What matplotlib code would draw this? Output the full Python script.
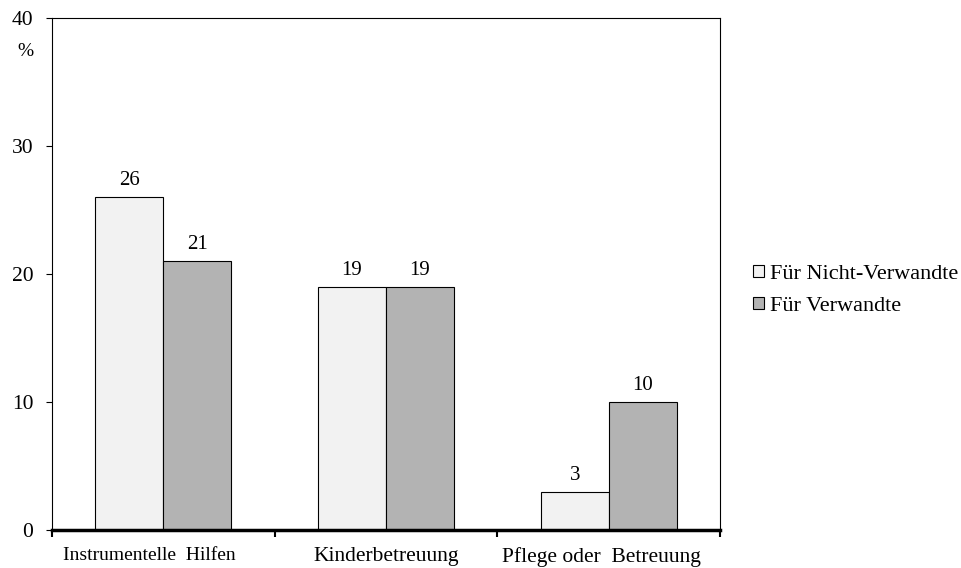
import numpy as np
import matplotlib.pyplot as plt
import matplotlib.transforms as mtransforms

plt.rcParams['font.family'] = ['Liberation Serif', 'DejaVu Serif']

# Data
categories = ['Instrumentelle  Hilfen', 'Kinderbetreuung', 'Pflege oder  Betreuung']
nicht_verwandte = [26, 19, 3]
verwandte = [21, 19, 10]
series_names = ['Für Nicht-Verwandte', 'Für Verwandte']

fig = plt.figure(figsize=(9.61, 5.68), dpi=100)
ax = fig.add_axes([0.0541, 0.0669, 0.6951, 0.9014])

x = np.arange(len(categories))
w = 0.305
b1 = ax.bar(x - w / 2, nicht_verwandte, w, color='#f2f2f2', edgecolor='black', linewidth=0.8, label=series_names[0])
b2 = ax.bar(x + w / 2, verwandte, w, color='#b3b3b3', edgecolor='black', linewidth=0.8, label=series_names[1])

for bars in (b1, b2):
    for r in bars:
        ax.annotate(f'{r.get_height():g}', (r.get_x() + r.get_width() / 2, r.get_height()),
                    xytext=(0, 5), textcoords='offset points', ha='center', va='bottom', fontsize=15)

ax.set_xlim(-0.5, len(categories) - 0.5)
ax.set_ylim(0, 40)
ax.set_yticks([0, 10, 20, 30, 40])
ax.tick_params(axis='y', direction='out', length=4.5, width=0.8, labelsize=15.5, pad=9)

# category boundaries as ticks, labels at centres
ax.set_xticks(np.arange(len(categories) + 1) - 0.5)
ax.set_xticklabels([])
ax.set_xticks(x, minor=True)
ax.set_xticklabels(categories, minor=True, fontsize=15.5)
ax.tick_params(axis='x', which='major', direction='out', length=5, width=1.5)
ax.tick_params(axis='x', which='minor', length=0, pad=12)

# the original labels sit a little off-centre
labs = ax.get_xticklabels(minor=True)
labs[0].set_fontsize(14)
shifts = [-10, 0, -5]
for lab, dx in zip(labs, shifts):
    lab.set_transform(lab.get_transform() + mtransforms.ScaledTranslation(dx / 72, 0, fig.dpi_scale_trans))

for s in ['top', 'right', 'left']:
    ax.spines[s].set_linewidth(0.8)
ax.spines['bottom'].set_linewidth(2.5)

ax.text(-0.040, 0.934, '%', transform=ax.transAxes, ha='center', va='center', fontsize=14)

ax.legend(loc='center left', bbox_to_anchor=(1.02, 0.468), frameon=False, fontsize=16,
          handlelength=0.48, handleheight=0.48, handletextpad=0.25, labelspacing=0.58)

fig.savefig('out.png', dpi=100)
